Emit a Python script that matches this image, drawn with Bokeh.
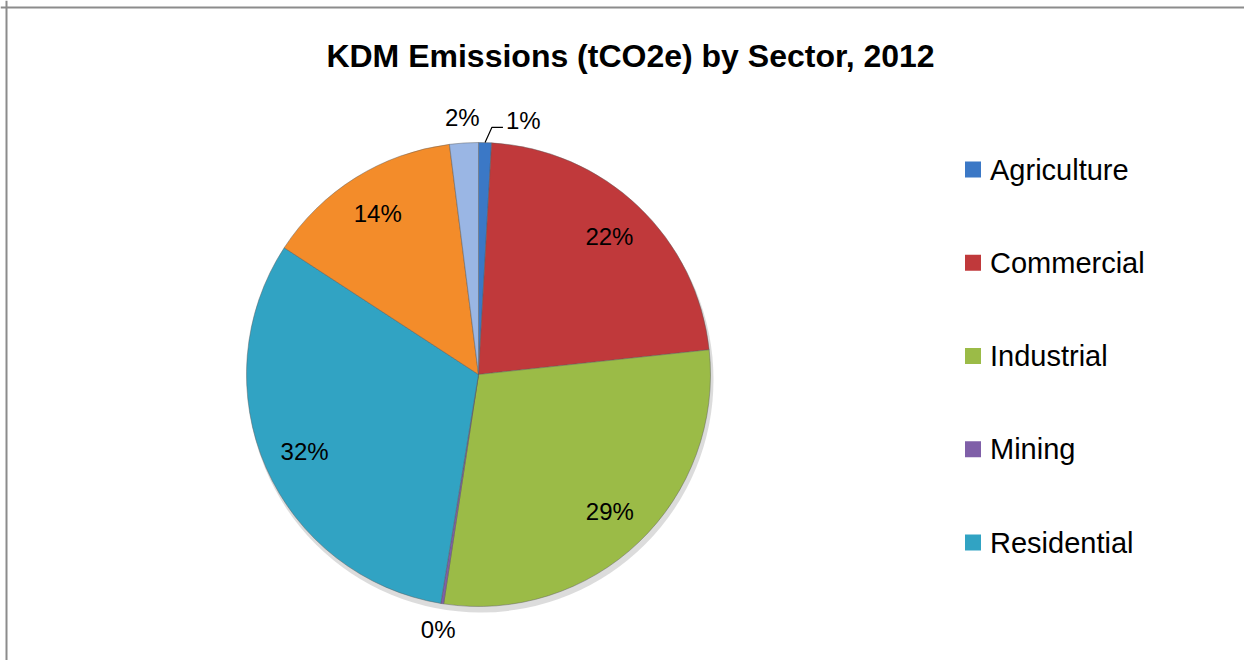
import math
from bokeh.plotting import figure
from bokeh.models import Range1d, Span, Label, ColumnDataSource
from bokeh.core.properties import value
from bokeh.embed import file_html
from bokeh.resources import INLINE

# ---- data ----
sectors = ["Agriculture", "Commercial", "Industrial", "Mining", "Residential", "Transportation", "Waste"]
shares = [0.9, 22.4, 29.1, 0.2, 31.6, 13.8, 2.0]
colors = ["#3b78c6", "#c0393b", "#9bbb47", "#7f5fa8", "#31a3c3", "#f38c2a", "#9ab6e4"]
legend_sectors = sectors[:5]
title_text = "KDM Emissions (tCO2e) by Sector, 2012"

# ---- layout ----
W, H = 1244, 660
FONT = "Liberation Sans"
cx, cy, R = 478, H - 374, 232

p = figure(width=W, height=H, output_backend="svg", toolbar_location=None,
           x_range=Range1d(0, W), y_range=Range1d(0, H), min_border=0,
           background_fill_color="white", border_fill_color="white")
p.axis.visible = False
p.grid.visible = False
p.outline_line_color = None

# chart border (left / top visible in reference)
p.add_layout(Span(location=6, dimension="height", line_color="#8c8c8c", line_width=2))
p.add_layout(Span(location=H - 7, dimension="width", line_color="#8c8c8c", line_width=2))

# shadow
p.circle(x=[cx + 2], y=[cy - 5], radius=R + 1, fill_color="#9a9a9a", fill_alpha=0.35, line_color=None)

total = sum(shares)
starts, ends, mids = [], [], []
acc = 0.0
for s in shares:
    t0 = acc / total * 2 * math.pi
    acc += s
    t1 = acc / total * 2 * math.pi
    starts.append(math.pi / 2 - t0)
    ends.append(math.pi / 2 - t1)
    mids.append((t0 + t1) / 2)

src = ColumnDataSource(dict(start=starts, end=ends, color=colors, sector=sectors))
p.wedge(x=cx, y=cy, radius=R, start_angle="start", end_angle="end", direction="clock",
        fill_color="color", line_color="#5a5a5a", line_alpha=0.45, line_width=1, source=src)

# data labels
label_nudge = {0: math.radians(8.3)}
for i, s in enumerate(shares):
    pct = f"{round(s / total * 100)}%"
    inside = s / total >= 0.05
    r = 190 if inside else 258
    th = mids[i] + label_nudge.get(i, 0.0)
    lx = cx + r * math.sin(th)
    ly = cy + r * math.cos(th)
    if i in label_nudge:
        ex = cx + R * math.sin(mids[i])
        ey = cy + R * math.cos(mids[i])
        tx = lx - 17
        p.line(x=[ex, tx - 14, tx - 3], y=[ey, ly - 7, ly - 7], line_color="black", line_width=1.2)
        p.text(x=[tx], y=[ly], text=[pct], text_font=value(FONT), text_font_size="24px",
               text_align="left", text_baseline="middle", text_color="black")
    else:
        p.text(x=[lx], y=[ly], text=[pct], text_font=value(FONT), text_font_size="24px",
               text_align="center", text_baseline="middle", text_color="black")

# legend (manual, Excel style)
leg_x, leg_top, leg_step = 972.5, H - 169, 93.25
for i, name in enumerate(legend_sectors):
    y = leg_top - i * leg_step
    p.rect(x=[leg_x], y=[y], width=16, height=16, fill_color=colors[i], line_color=None)
    p.text(x=[leg_x + 17], y=[y], text=[name], text_font=value(FONT), text_font_size="29px",
           text_align="left", text_baseline="middle", text_color="black")

# title
p.add_layout(Label(x=630, y=H - 55, text=title_text, text_font=FONT, text_font_size="32px",
                   text_font_style="bold", text_align="center", text_baseline="middle",
                   text_color="black"))

open("out.html", "w").write(file_html(p, INLINE))
